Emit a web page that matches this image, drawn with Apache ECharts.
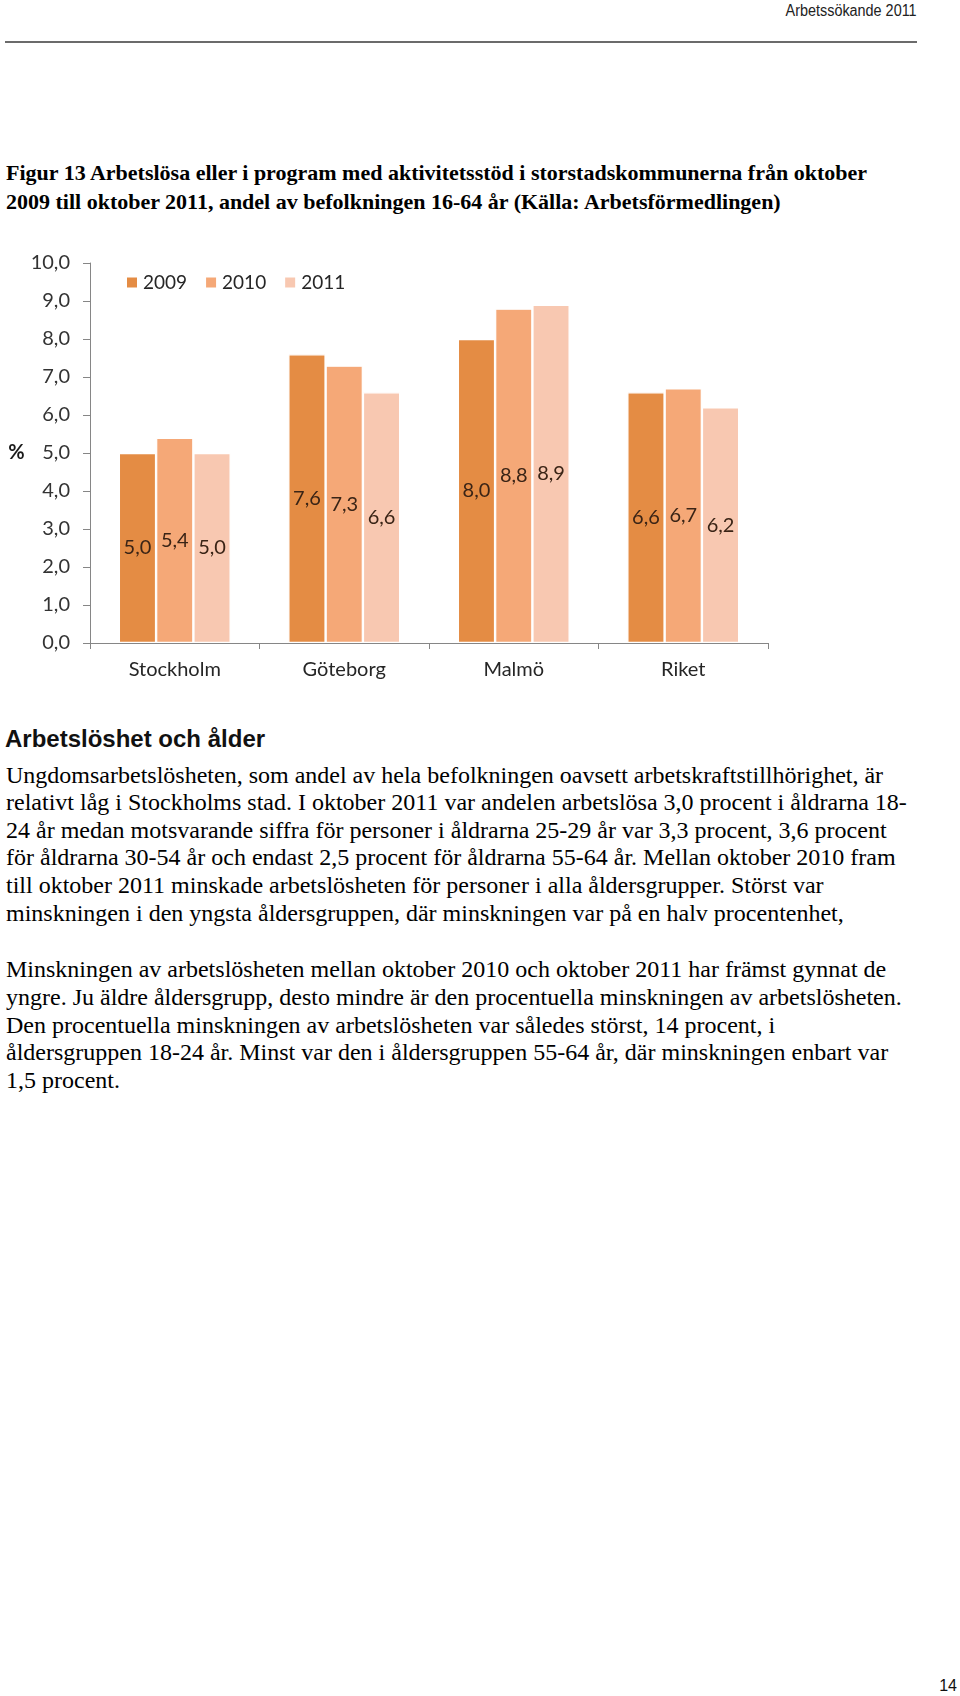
<!DOCTYPE html>
<html><head><meta charset="utf-8">
<script src="https://cdn.jsdelivr.net/npm/echarts@6/dist/echarts.min.js"></script>
<style>
html,body{margin:0;padding:0;background:#fff;width:960px;height:1696px;overflow:hidden;position:relative}
.t{position:absolute;left:6px;white-space:nowrap;font-family:"Liberation Serif","Times New Roman",serif;font-size:24px;line-height:28px;color:#000}
.b{font-weight:bold;font-size:22px}
#hdr{position:absolute;right:43px;top:0px;font-family:"Liberation Sans",Arial,sans-serif;font-size:16px;line-height:22px;color:#222;transform:scaleX(0.9);transform-origin:right center;white-space:nowrap}
#rule{position:absolute;left:5px;top:41px;width:912px;height:2px;background:#6b6b6b}
#h2{position:absolute;left:5px;top:725px;font-family:"Liberation Sans",Arial,sans-serif;font-weight:bold;font-size:24px;line-height:28px;color:#111;white-space:nowrap}
#pg{position:absolute;right:3px;top:1676px;font-family:"Liberation Sans",Arial,sans-serif;font-size:16px;line-height:20px;color:#111}
#chart{position:absolute;left:0;top:220px;width:960px;height:500px}
</style></head>
<body>
<div id="hdr">Arbetssökande 2011</div>
<div id="rule"></div>
<div class="t b" style="top:159px">Figur 13 Arbetslösa eller i program med aktivitetsstöd i storstadskommunerna från oktober</div>
<div class="t b" style="top:188px">2009 till oktober 2011, andel av befolkningen 16-64 år (Källa: Arbetsförmedlingen)</div>
<div id="chart"></div>
<div id="h2">Arbetslöshet och ålder</div>
<div class="t" style="top:761px">Ungdomsarbetslösheten, som andel av hela befolkningen oavsett arbetskraftstillhörighet, är</div>
<div class="t" style="top:788px">relativt låg i Stockholms stad. I oktober 2011 var andelen arbetslösa 3,0 procent i åldrarna 18-</div>
<div class="t" style="top:816px">24 år medan motsvarande siffra för personer i åldrarna 25-29 år var 3,3 procent, 3,6 procent</div>
<div class="t" style="top:843px">för åldrarna 30-54 år och endast 2,5 procent för åldrarna 55-64 år. Mellan oktober 2010 fram</div>
<div class="t" style="top:871px">till oktober 2011 minskade arbetslösheten för personer i alla åldersgrupper. Störst var</div>
<div class="t" style="top:899px">minskningen i den yngsta åldersgruppen, där minskningen var på en halv procentenhet,</div>
<div class="t" style="top:955px">Minskningen av arbetslösheten mellan oktober 2010 och oktober 2011 har främst gynnat de</div>
<div class="t" style="top:983px">yngre. Ju äldre åldersgrupp, desto mindre är den procentuella minskningen av arbetslösheten.</div>
<div class="t" style="top:1011px">Den procentuella minskningen av arbetslösheten var således störst, 14 procent, i</div>
<div class="t" style="top:1038px">åldersgruppen 18-24 år. Minst var den i åldersgruppen 55-64 år, där minskningen enbart var</div>
<div class="t" style="top:1066px">1,5 procent.</div>
<div id="pg">14</div>
<script>
const categories = ['Stockholm', 'Göteborg', 'Malmö', 'Riket'];
const seriesNames = ['2009', '2010', '2011'];
const values2009 = [5.0, 7.6, 8.0, 6.6];
const values2010 = [5.4, 7.3, 8.8, 6.7];
const values2011 = [5.0, 6.6, 8.9, 6.2];
const yMin = 0, yMax = 10, yStep = 1;
const colors = ['#E48C44', '#F5A877', '#F8C8B1'];

const fmt = v => Number(v).toFixed(1).replace('.', ',');
const font = 'Lato, "Open Sans", sans-serif';
const chart = echarts.init(document.getElementById('chart'), null, {renderer: 'canvas'});
const allValues = [values2009, values2010, values2011];
chart.setOption({
  animation: false,
  backgroundColor: 'transparent',
  textStyle: {fontFamily: font},
  legend: {
    left: 125, top: 53, padding: 0, itemWidth: 12, itemHeight: 12, itemGap: 17,
    icon: 'rect',
    textStyle: {fontSize: 19, color: '#262626', fontFamily: font},
    data: seriesNames
  },
  grid: {left: 90, right: 192, top: 43, bottom: 77, containLabel: false},
  xAxis: {
    type: 'category', data: categories,
    axisLine: {lineStyle: {color: '#868686', width: 1}},
    axisTick: {show: true, length: 6, lineStyle: {color: '#868686'}},
    axisLabel: {fontSize: 20, color: '#262626', margin: 17, fontFamily: font}
  },
  yAxis: {
    type: 'value', min: yMin, max: yMax, interval: yStep,
    name: '%', nameLocation: 'middle', nameRotate: 0, nameGap: 60,
    nameTextStyle: {fontSize: 20, fontWeight: 'bold', color: '#1a1a1a', fontFamily: font},
    axisLine: {show: true, lineStyle: {color: '#868686', width: 1}},
    axisTick: {show: true, length: 7, lineStyle: {color: '#868686'}},
    splitLine: {show: false},
    axisLabel: {fontSize: 20, color: '#333', margin: 20, formatter: fmt, fontFamily: font}
  },
  series: seriesNames.map((n, i) => ({
    name: n, type: 'bar', data: allValues[i],
    barGap: '0%', barCategoryGap: '34%',
    itemStyle: {color: colors[i], borderColor: '#ffffff', borderWidth: 1.2},
    label: {show: true, position: 'inside', fontSize: 20, color: '#3a2416', fontFamily: font,
            formatter: p => fmt(p.value)}
  }))
});
</script>
</body></html>
